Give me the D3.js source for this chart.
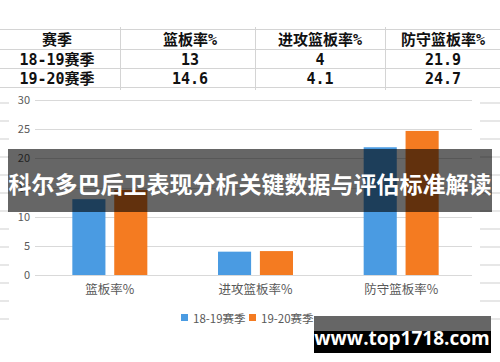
<!DOCTYPE html>
<html>
<head>
<meta charset="utf-8">
<script src="https://cdn.jsdelivr.net/npm/d3@7"></script>
<style>
  body { margin: 0; background: #fff; }
  svg { display: block; }
  .cjk { font-family: "Noto Sans CJK SC", "Noto Sans", sans-serif; }
</style>
</head>
<body>
<div id="chart"></div>
<script>
var width = 500, height = 362;

// data
var categories = ["篮板率%", "进攻篮板率%", "防守篮板率%"];
var seasons = ["18-19赛季", "19-20赛季"];
var season1819 = [13, 4, 21.9];
var season1920 = [14.6, 4.1, 24.7];
var tableLabels = ["13", "4", "21.9"];
var tableLabels2 = ["14.6", "4.1", "24.7"];
var yTicks = [0, 5, 10, 15, 20, 25, 30];
var colours = ["#4a9be2", "#f47b21"];
var titleText = "科尔多巴后卫表现分析关键数据与评估标准解读";

var svg = d3.select("#chart").append("svg")
  .attr("width", width)
  .attr("height", height);

// ---- table at the top ----
var colX = [0, 120, 255, 385, 500];
var rowY = [29, 49, 68, 87];
var tbl = svg.append("g");

tbl.selectAll("line.h").data(rowY).enter().append("line")
  .attr("x1", 0).attr("x2", width)
  .attr("y1", function(d){return d + 0.5}).attr("y2", function(d){return d + 0.5})
  .attr("stroke", "#d4d4d4");

tbl.selectAll("line.v").data(colX.slice(1, 4)).enter().append("line")
  .attr("x1", function(d){return d + 0.5}).attr("x2", function(d){return d + 0.5})
  .attr("y1", 27).attr("y2", 90)
  .attr("stroke", "#d4d4d4");

var rows = [["赛季"].concat(categories), [seasons[0]].concat(tableLabels), [seasons[1]].concat(tableLabels2)];
var colCentre = [57, 190, 320, 443];

rows.forEach(function(r, ri){
  tbl.selectAll(null).data(r).enter().append("text")
    .attr("x", function(d, i){return colCentre[i]})
    .attr("y", (rowY[ri] + rowY[ri + 1]) / 2 + 1)
    .attr("text-anchor", "middle")
    .attr("dominant-baseline", "central")
    .style("font-family", '"DejaVu Sans Mono", "Noto Sans CJK SC", monospace')
    .style("font-weight", "bold")
    .style("font-size", "15px")
    .attr("fill", "#111")
    .text(function(d){return d});
});

// ---- decorative lines at both edges ----
var edgeY = d3.range(103, 322, 18);
svg.append("g").selectAll("line").data(edgeY).enter().append("line")
  .attr("x1", 0).attr("x2", 9)
  .attr("y1", function(d){return d}).attr("y2", function(d){return d})
  .attr("stroke", "#cfcfcf");
svg.append("g").selectAll("line").data(edgeY).enter().append("line")
  .attr("x1", 480).attr("x2", 500)
  .attr("y1", function(d){return d}).attr("y2", function(d){return d})
  .attr("stroke", "#cfcfcf");

// ---- bar chart ----
var y = d3.scaleLinear().domain([0, 30]).range([275, 100]);
var x0 = d3.scaleBand().domain(categories).range([37, 474]);
var x1 = d3.scaleBand().domain(seasons)
  .range([x0.bandwidth() / 2 - 37.5, x0.bandwidth() / 2 + 37.5])
  .paddingInner(0.21);

var grid = svg.append("g");
grid.selectAll("line").data(yTicks).enter().append("line")
  .attr("x1", 35).attr("x2", 472)
  .attr("y1", function(d){return Math.round(y(d)) + 0.5})
  .attr("y2", function(d){return Math.round(y(d)) + 0.5})
  .attr("stroke", "#d9d9d9");

var yAxis = svg.append("g")
  .attr("transform", "translate(30,0)")
  .call(d3.axisLeft(y).tickValues(yTicks).tickSize(0).tickPadding(0));
yAxis.select(".domain").remove();
yAxis.selectAll("text")
  .attr("class", "cjk")
  .style("font-size", "11px")
  .attr("fill", "#595959");

var series = [season1819, season1920];
var groups = svg.append("g").selectAll("g")
  .data(categories).enter().append("g")
  .attr("transform", function(d){return "translate(" + x0(d) + ",0)"});

groups.selectAll("rect")
  .data(function(d, i){return seasons.map(function(s, j){return {s: s, v: series[j][i], j: j}})})
  .enter().append("rect")
  .attr("x", function(d){return x1(d.s)})
  .attr("width", x1.bandwidth())
  .attr("y", function(d){return y(d.v)})
  .attr("height", function(d){return y(0) - y(d.v)})
  .attr("fill", function(d){return colours[d.j]});

var xAxis = svg.append("g")
  .attr("transform", "translate(0,276)")
  .call(d3.axisBottom(x0).tickSize(0).tickPadding(9));
xAxis.select(".domain").remove();
xAxis.selectAll("text")
  .attr("class", "cjk")
  .style("font-size", "12.5px")
  .attr("fill", "#595959");

// legend
var legend = svg.append("g").attr("transform", "translate(181,318)");
var legItems = legend.selectAll("g").data(seasons).enter().append("g")
  .attr("transform", function(d, i){return "translate(" + (i * 68) + ",0)"});
legItems.append("rect")
  .attr("x", 0).attr("y", -4).attr("width", 7).attr("height", 7)
  .attr("fill", function(d, i){return colours[i]});
legItems.append("text")
  .attr("class", "cjk")
  .attr("x", 12).attr("y", 0)
  .attr("dominant-baseline", "central")
  .style("font-size", "11.5px")
  .attr("fill", "#595959")
  .text(function(d){return d});

// ---- title overlay ----
svg.append("rect")
  .attr("x", 8).attr("y", 149).attr("width", 484).attr("height", 63)
  .attr("fill", "#000").attr("fill-opacity", 0.6);
svg.append("text")
  .attr("class", "cjk")
  .attr("x", 250).attr("y", 183)
  .attr("text-anchor", "middle")
  .attr("dominant-baseline", "central")
  .style("font-size", "23px")
  .style("font-weight", "bold")
  .attr("fill", "#fff")
  .text(titleText);

// ---- watermark ----
svg.append("rect")
  .attr("x", 314).attr("y", 316).attr("width", 177).attr("height", 15)
  .attr("fill", "#666");
svg.append("rect")
  .attr("x", 314).attr("y", 331).attr("width", 177).attr("height", 22)
  .attr("fill", "#000");
svg.append("text")
  .attr("x", 402).attr("y", 338)
  .attr("text-anchor", "middle")
  .attr("dominant-baseline", "central")
  .style("font-family", '"Open Sans", sans-serif')
  .style("font-size", "19px")
  .style("font-weight", "bold")
  .attr("fill", "#fff")
  .text("www.top1718.com");
</script>
</body>
</html>
